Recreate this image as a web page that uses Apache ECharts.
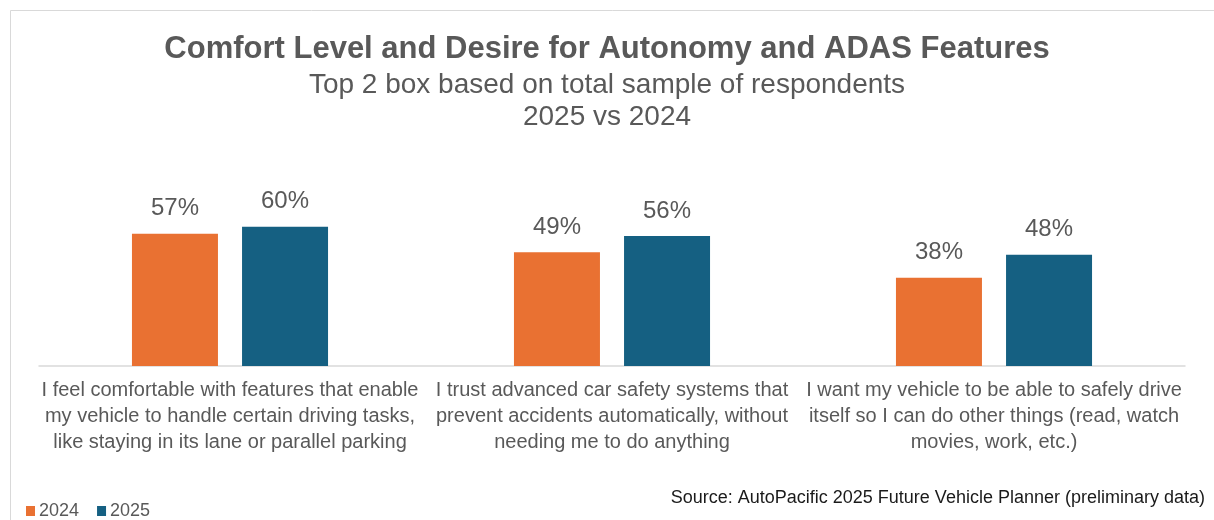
<!DOCTYPE html>
<html>
<head>
<meta charset="utf-8">
<script src="https://cdn.jsdelivr.net/npm/echarts@6/dist/echarts.min.js"></script>
<style>
  html, body { margin: 0; padding: 0; background: #fff; }
  #chart { width: 1214px; height: 520px; }
</style>
</head>
<body>
<div id="chart"></div>
<script>
var categories = [
  'I feel comfortable with features that enable\nmy vehicle to handle certain driving tasks,\nlike staying in its lane or parallel parking',
  'I trust advanced car safety systems that\nprevent accidents automatically, without\nneeding me to do anything',
  'I want my vehicle to be able to safely drive\nitself so I can do other things (read, watch\nmovies, work, etc.)'
];
var values2024 = [57, 49, 38];
var values2025 = [60, 56, 48];

var textColor = '#595959';
var font = 'Liberation Sans, Arial, sans-serif';

var chart = echarts.init(document.getElementById('chart'));
chart.setOption({
  animation: false,
  backgroundColor: '#fff',
  textStyle: { fontFamily: font },
  graphic: [{
    type: 'rect',
    shape: { x: 10.5, y: 10.5, width: 1220, height: 530 },
    style: { fill: 'none', stroke: '#d9d9d9', lineWidth: 1 },
    silent: true
  }, {
    type: 'text',
    left: 'center',
    top: 34,
    style: { text: 'Comfort Level and Desire for Autonomy and ADAS Features', font: 'bold 31px ' + font, fill: textColor }
  }, {
    type: 'text',
    left: 'center',
    top: 71,
    style: { text: 'Top 2 box based on total sample of respondents', font: '28px ' + font, fill: textColor }
  }, {
    type: 'text',
    left: 'center',
    top: 103,
    style: { text: '2025 vs 2024', font: '28px ' + font, fill: textColor }
  }, {
    type: 'text',
    right: 9,
    top: 489,
    style: { text: 'Source: AutoPacific 2025 Future Vehicle Planner (preliminary data)', font: '18px ' + font, fill: '#1a1a1a' }
  }],
  legend: {
    left: 21,
    top: 497,
    icon: 'rect',
    itemWidth: 9,
    itemHeight: 10,
    itemGap: 18,
    textStyle: { color: textColor, fontSize: 18, fontFamily: font, padding: [0, 0, 0, -1] },
    data: ['2024', '2025']
  },
  grid: { left: 39, right: 29, top: 134, bottom: 154 },
  xAxis: {
    type: 'category',
    data: categories,
    axisLine: { lineStyle: { color: '#d9d9d9', width: 1.5 } },
    axisTick: { show: false },
    axisLabel: {
      interval: 0,
      margin: 11,
      color: textColor,
      fontSize: 20,
      lineHeight: 26,
      fontFamily: font
    }
  },
  yAxis: {
    type: 'value',
    min: 0,
    max: 100,
    show: false,
    splitLine: { show: false }
  },
  series: [{
    name: '2024',
    type: 'bar',
    data: values2024,
    barWidth: 86,
    barGap: '28%',
    itemStyle: { color: '#E97132' },
    label: { show: true, position: 'top', distance: 13, formatter: '{c}%', color: textColor, fontSize: 24, fontFamily: font }
  }, {
    name: '2025',
    type: 'bar',
    data: values2025,
    barWidth: 86,
    itemStyle: { color: '#156082' },
    label: { show: true, position: 'top', distance: 13, formatter: '{c}%', color: textColor, fontSize: 24, fontFamily: font }
  }]
});
</script>
</body>
</html>
